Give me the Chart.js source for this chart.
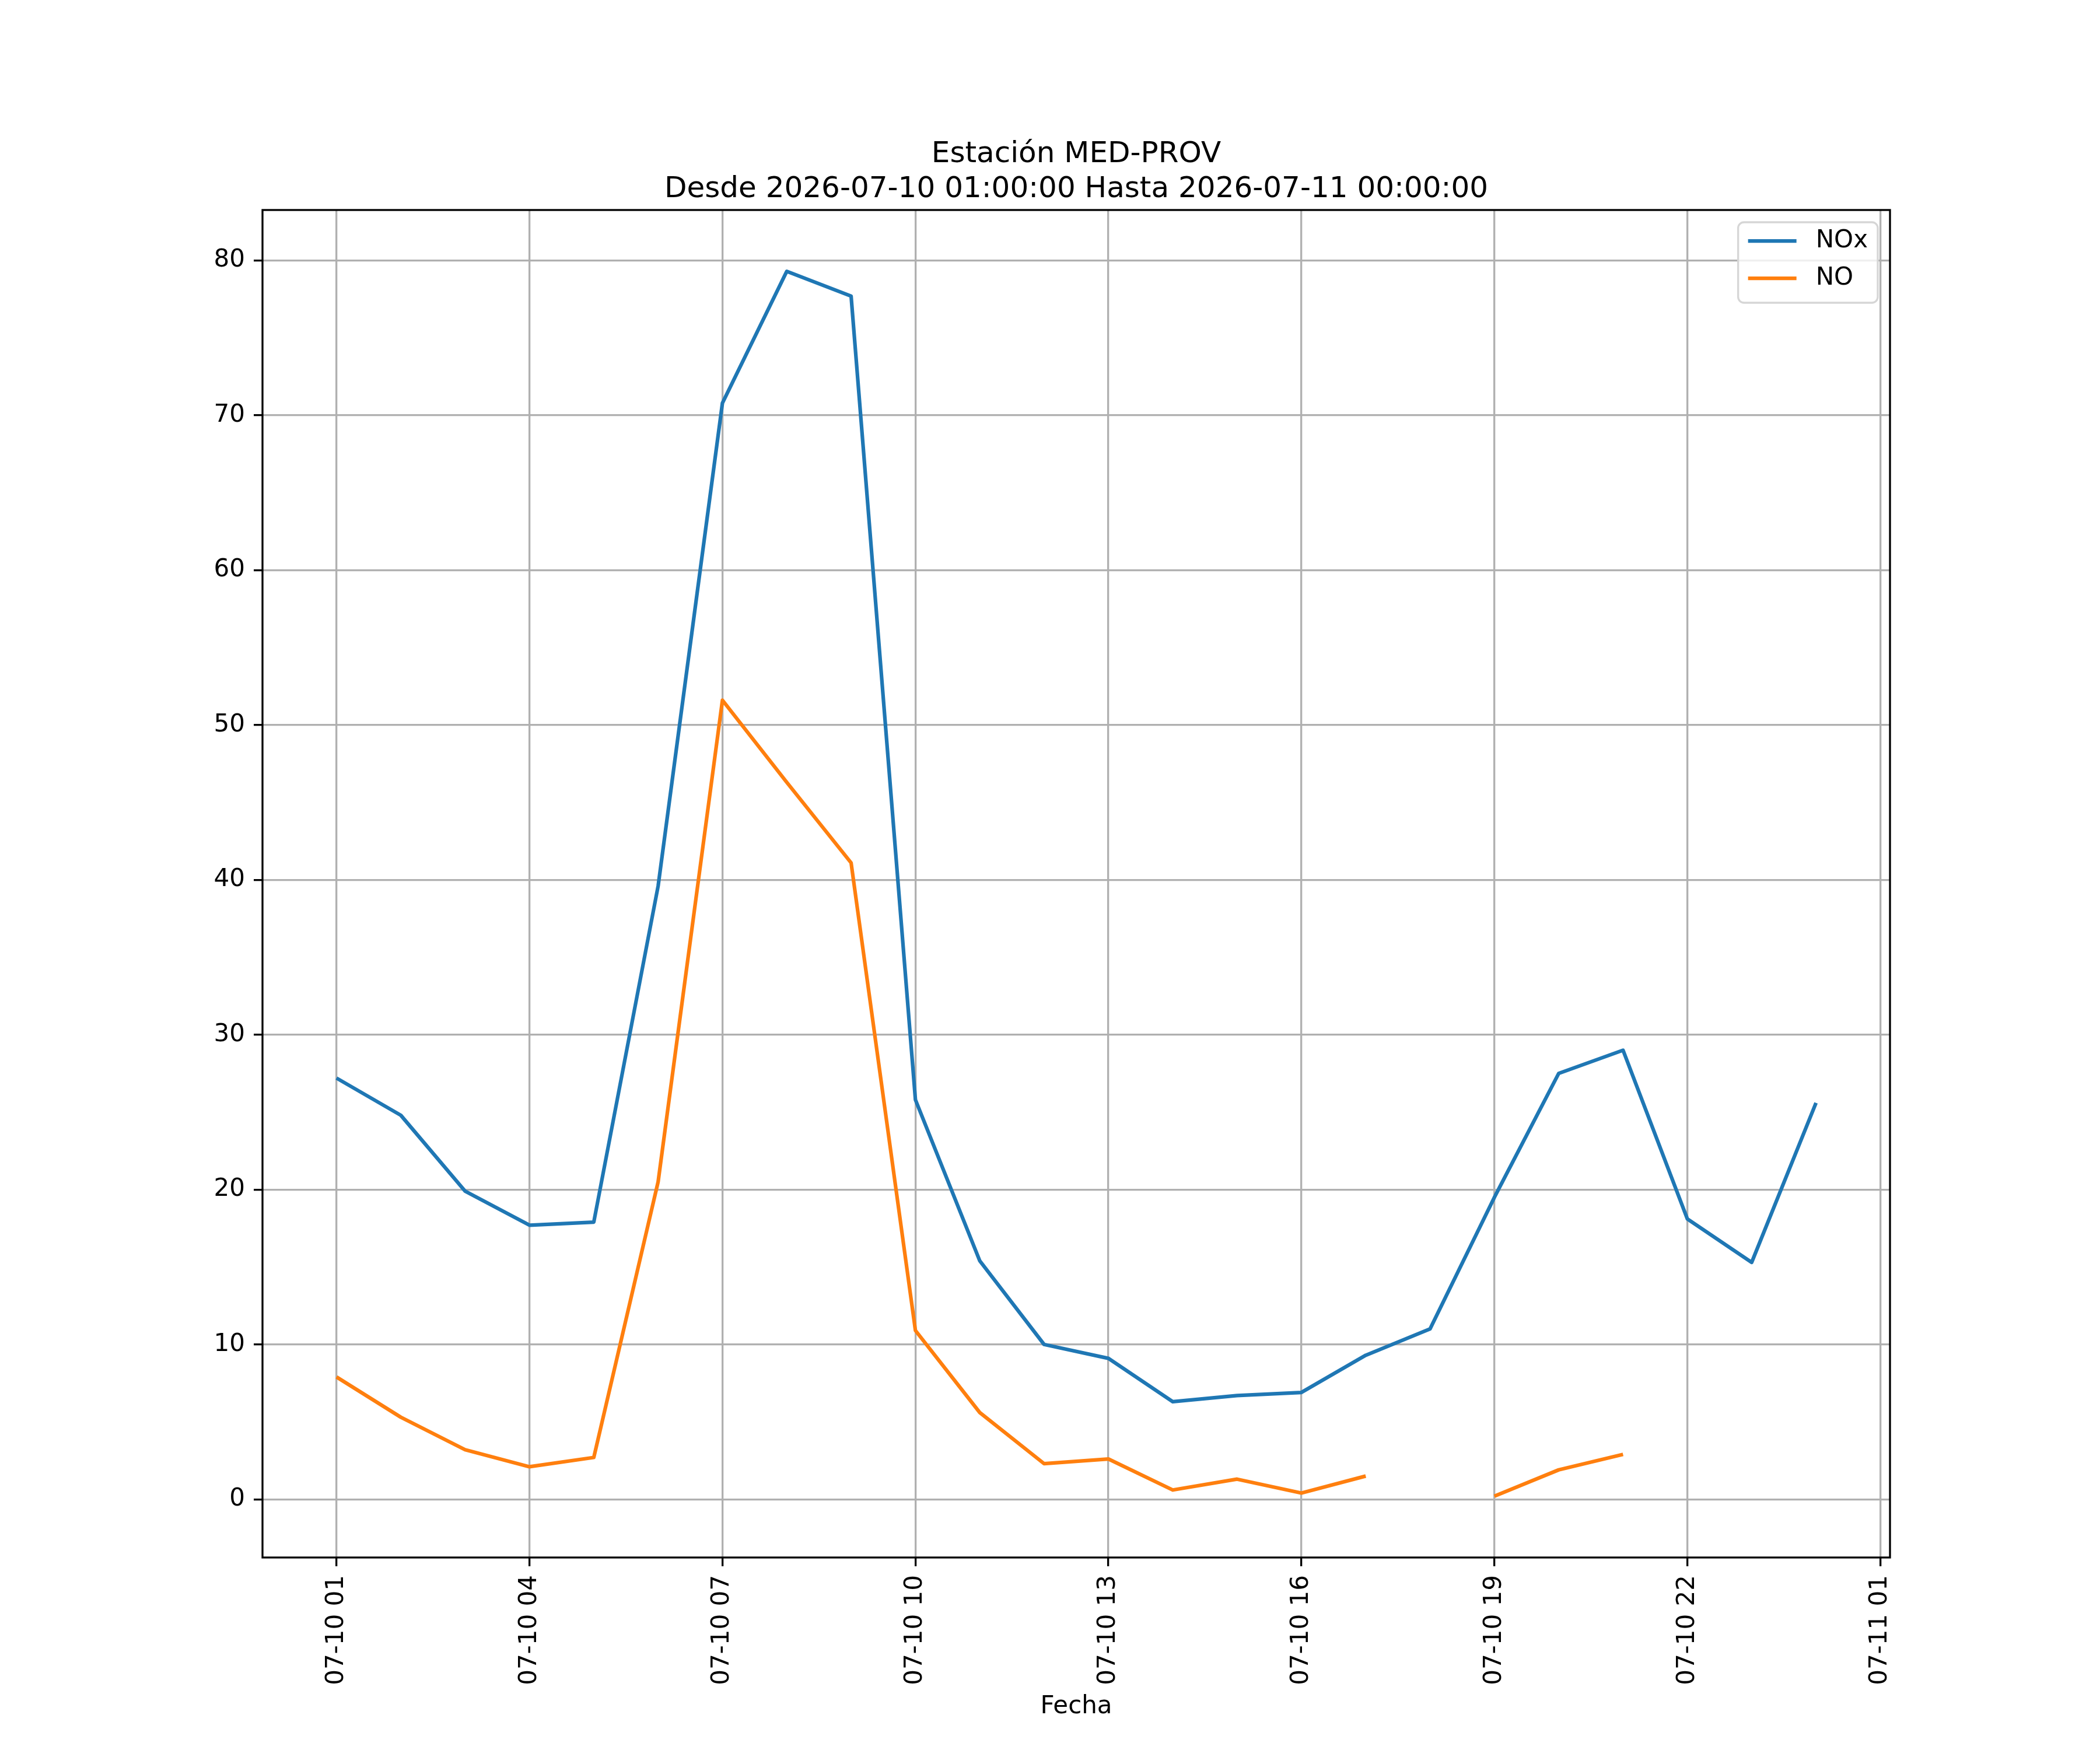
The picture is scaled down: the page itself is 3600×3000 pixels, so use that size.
<!DOCTYPE html>
<html>
<head>
<meta charset="utf-8">
<script src="https://cdn.jsdelivr.net/npm/chart.js@4.4.1/dist/chart.umd.min.js"></script>
<style>
  body { margin: 0; background: #fff; }
  canvas { display: block; }
</style>
</head>
<body>
<canvas id="chart" width="3600" height="3000"></canvas>
<script>
// Hourly readings, 07-10 01:00 .. 07-11 00:00
const timeLabels = [
  '07-10 01:00', '07-10 02:00', '07-10 03:00', '07-10 04:00', '07-10 05:00', '07-10 06:00',
  '07-10 07:00', '07-10 08:00', '07-10 09:00', '07-10 10:00', '07-10 11:00', '07-10 12:00',
  '07-10 13:00', '07-10 14:00', '07-10 15:00', '07-10 16:00', '07-10 17:00', '07-10 18:00',
  '07-10 19:00', '07-10 20:00', '07-10 21:00', '07-10 22:00', '07-10 23:00', '07-11 00:00'
];
const noxValues = [27.2, 24.8, 19.9, 17.7, 17.9, 39.6, 70.8, 79.3, 77.7, 25.8, 15.4, 10.0,
  9.1, 6.3, 6.7, 6.9, 9.3, 11.0, 19.5, 27.5, 29.0, 18.1, 15.3, 25.6];
const noValues = [7.9, 5.3, 3.2, 2.1, 2.7, 20.5, 51.6, 46.3, 41.1, 10.9, 5.6, 2.3,
  2.6, 0.6, 1.3, 0.4, 1.5, null, 0.2, 1.9, 2.9, null, null, null];

// x ticks every 3 hours (hours since 07-10 01:00)
const xTickHours = [0, 3, 6, 9, 12, 15, 18, 21, 24];
const xTickLabels = ['07-10 01', '07-10 04', '07-10 07', '07-10 10', '07-10 13',
  '07-10 16', '07-10 19', '07-10 22', '07-11 01'];
const yTicks = [0, 10, 20, 30, 40, 50, 60, 70, 80];

const FONT = 'DejaVu Sans';

function toPoints(values) {
  return values.map((v, i) => ({ x: i, y: v }));
}

// axes frame like matplotlib spines
const framePlugin = {
  id: 'frame',
  afterDatasetsDraw(chart) {
    const { ctx, chartArea: a } = chart;
    ctx.save();
    ctx.strokeStyle = '#000';
    ctx.lineWidth = 3.3;
    ctx.strokeRect(a.left, a.top, a.right - a.left, a.bottom - a.top);
    ctx.restore();
  }
};

// legend drawn inside the plot, upper right
const innerLegend = {
  id: 'innerLegend',
  afterDraw(chart) {
    const { ctx, chartArea: a } = chart;
    const fs = 42;
    const pad = 17, handle = 83, gap = 33, rowH = 64;
    const sets = chart.data.datasets;
    ctx.save();
    ctx.font = fs + 'px "' + FONT + '"';
    const textW = Math.max(...sets.map(d => ctx.measureText(d.label).width));
    const w = pad * 2 + handle + gap + textW;
    const h = 138;
    const x = a.right - 21 - w;
    const y = a.top + 21;
    ctx.beginPath();
    ctx.roundRect(x, y, w, h, 10);
    ctx.fillStyle = 'rgba(255,255,255,0.8)';
    ctx.fill();
    ctx.strokeStyle = '#d6d6d6';
    ctx.lineWidth = 3.3;
    ctx.stroke();
    sets.forEach((d, i) => {
      const cy = y + 32 + i * rowH;
      ctx.strokeStyle = d.borderColor;
      ctx.lineWidth = 6.25;
      ctx.beginPath();
      ctx.moveTo(x + pad, cy);
      ctx.lineTo(x + pad + handle, cy);
      ctx.stroke();
      ctx.fillStyle = '#000';
      ctx.textBaseline = 'middle';
      ctx.textAlign = 'left';
      ctx.fillText(d.label, x + pad + handle + gap, cy);
    });
    ctx.restore();
  }
};

new Chart(document.getElementById('chart'), {
  type: 'line',
  data: {
    datasets: [
      { label: 'NOx', data: toPoints(noxValues), borderColor: '#1f77b4', backgroundColor: '#1f77b4' },
      { label: 'NO', data: toPoints(noValues), borderColor: '#ff7f0e', backgroundColor: '#ff7f0e' }
    ]
  },
  options: {
    responsive: false,
    animation: false,
    devicePixelRatio: 1,
    // left padding 90 + y width 360 | spacer width 360: title box is centred on the plot
    layout: { padding: { top: 235, right: 0, bottom: 0, left: 90 } },
    elements: {
      line: { borderWidth: 6.25, tension: 0, borderCapStyle: 'butt', borderJoinStyle: 'round' },
      point: { radius: 0, hoverRadius: 0 }
    },
    spanGaps: false,
    plugins: {
      legend: { display: false },
      tooltip: { enabled: false },
      title: {
        display: true,
        text: ['Estación MED-PROV', 'Desde 2026-07-10 01:00:00 Hasta 2026-07-11 00:00:00'],
        color: '#000',
        font: { family: FONT, size: 50, weight: 'normal', lineHeight: 1.2 },
        padding: { top: 0, bottom: 5 }
      }
    },
    scales: {
      x: {
        type: 'linear',
        min: -1.15,
        max: 24.15,
        afterBuildTicks(scale) { scale.ticks = xTickHours.map(v => ({ value: v })); },
        afterFit(scale) { scale.height = 330; },
        ticks: {
          autoSkip: false,
          maxRotation: 90,
          minRotation: 90,
          padding: 15,
          color: '#000',
          font: { family: FONT, size: 42 },
          callback: (value, index) => xTickLabels[index]
        },
        grid: { color: '#b0b0b0', lineWidth: 3.3, tickLength: 15, tickColor: '#000', tickWidth: 3.3 },
        border: { display: false },
        title: {
          display: true,
          text: 'Fecha',
          color: '#000',
          font: { family: FONT, size: 42, lineHeight: 1.2 },
          padding: { top: 0, bottom: 49 }
        }
      },
      y: {
        type: 'linear',
        min: -3.76,
        max: 83.26,
        afterBuildTicks(scale) { scale.ticks = yTicks.map(v => ({ value: v })); },
        afterFit(scale) { scale.width = 360; },
        ticks: {
          padding: 15,
          color: '#000',
          font: { family: FONT, size: 42 },
          callback: value => String(value)
        },
        grid: { color: '#b0b0b0', lineWidth: 3.3, tickLength: 15, tickColor: '#000', tickWidth: 3.3 },
        border: { display: false }
      },
      // empty right-hand spacer, only reserves the right margin
      spacer: {
        type: 'linear',
        position: 'right',
        min: 0,
        max: 1,
        afterFit(scale) { scale.width = 360; },
        ticks: { display: false },
        grid: { display: false, drawOnChartArea: false },
        border: { display: false }
      }
    }
  },
  plugins: [framePlugin, innerLegend]
});
</script>
</body>
</html>
